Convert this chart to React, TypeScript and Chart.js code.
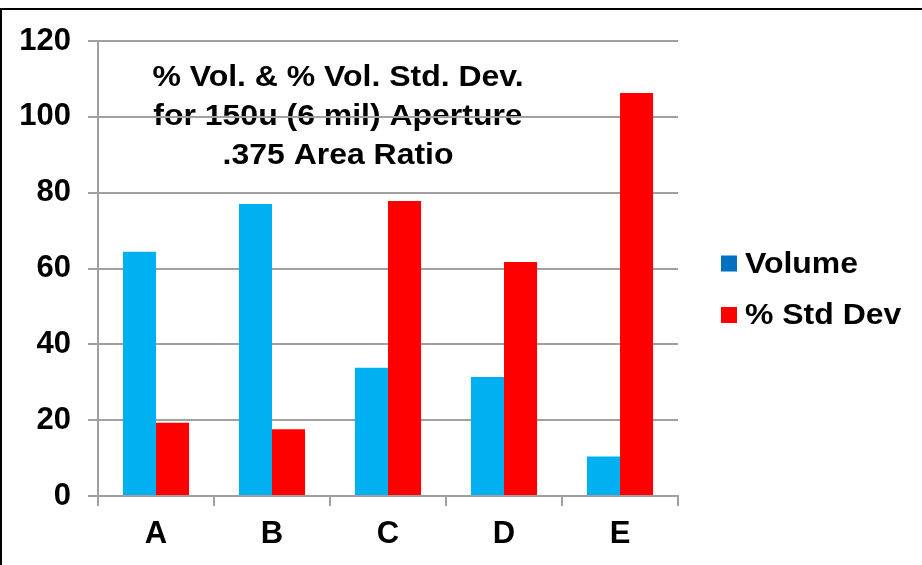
import React, { useEffect, useRef } from "react";
import { Chart, registerables } from "chart.js";

Chart.register(...registerables);

const categories = ["A", "B", "C", "D", "E"];
const volumeValues = [64.4, 77.0, 33.8, 31.4, 10.4];
const stdDevValues = [19.3, 17.6, 77.8, 61.7, 106.3];
const titleLines = ["% Vol. & % Vol. Std. Dev.", "for 150u (6 mil) Aperture", ".375 Area Ratio"];
const seriesNames = ["Volume", "% Std Dev"];

const FONT_FAMILY = "'Liberation Sans', Arial, sans-serif";
const GRID = "#a0a0a0";
const TEXT_STRETCH = 1.065;

// Title sits inside the plot, drawn before the grid so the grid lines cross it
const titlePlugin = {
  id: "innerTitle",
  beforeDraw(chart: Chart) {
    const { ctx, chartArea } = chart;
    ctx.save();
    ctx.fillStyle = "#000";
    ctx.font = `bold 30px ${FONT_FAMILY}`;
    ctx.textAlign = "center";
    ctx.textBaseline = "alphabetic";
    const cx = 338;
    titleLines.forEach((line, i) => {
      ctx.save();
      ctx.translate(cx, chartArea.top + 45 + i * 39);
      ctx.scale(TEXT_STRETCH, 1);
      ctx.fillText(line, 0, 0);
      ctx.restore();
    });
    ctx.restore();
  },
};

// Legend to the right of the plot
const legendPlugin = {
  id: "sideLegend",
  afterDraw(chart: Chart) {
    const { ctx } = chart;
    const swatches = ["#0070C0", "#FF0000"];
    ctx.save();
    ctx.font = `bold 30px ${FONT_FAMILY}`;
    ctx.textAlign = "left";
    ctx.textBaseline = "middle";
    seriesNames.forEach((name, i) => {
      const cy = 263.5 + i * 51.5;
      ctx.fillStyle = swatches[i];
      ctx.fillRect(721, cy - 8, 16, 16);
      ctx.fillStyle = "#000";
      ctx.save();
      ctx.translate(745, cy + 1);
      ctx.scale(TEXT_STRETCH, 1);
      ctx.fillText(name, 0, 0);
      ctx.restore();
    });
    ctx.restore();
  },
};

export default function App() {
  const canvasRef = useRef<HTMLCanvasElement | null>(null);

  useEffect(() => {
    if (!canvasRef.current) return;
    const chart = new Chart(canvasRef.current, {
      type: "bar",
      data: {
        labels: categories,
        datasets: [
          {
            label: seriesNames[0],
            data: volumeValues,
            backgroundColor: "#00B0F0",
            barPercentage: 1,
            categoryPercentage: 0.57,
          },
          {
            label: seriesNames[1],
            data: stdDevValues,
            backgroundColor: "#FF0000",
            barPercentage: 1,
            categoryPercentage: 0.57,
          },
        ],
      },
      options: {
        responsive: false,
        animation: false,
        layout: { padding: { top: 41, right: 244, bottom: 0, left: 0 } },
        plugins: {
          legend: { display: false },
          title: { display: false },
          tooltip: { enabled: false },
        },
        scales: {
          x: {
            offset: true,
            grid: {
              offset: true,
              drawOnChartArea: false,
              drawTicks: true,
              tickLength: 10,
              color: GRID,
              lineWidth: 2,
            },
            border: { display: true, color: GRID, width: 2 },
            ticks: {
              color: "#000",
              font: { family: FONT_FAMILY, size: 31, weight: "bold" },
              padding: 10,
              maxRotation: 0,
            },
            afterFit(scale: any) {
              scale.height = 69;
            },
          },
          y: {
            min: 0,
            max: 120,
            grid: {
              color: GRID,
              lineWidth: 2,
              drawTicks: true,
              tickLength: 10,
            },
            border: { display: true, color: GRID, width: 2 },
            ticks: {
              stepSize: 20,
              color: "#000",
              font: { family: FONT_FAMILY, size: 31, weight: "bold" },
              padding: 17,
            },
            afterFit(scale: any) {
              scale.width = 98;
            },
          },
        },
      },
      plugins: [titlePlugin, legendPlugin],
    });
    return () => chart.destroy();
  }, []);

  return (
    <div style={{ position: "absolute", left: 0, top: 0, width: 922, height: 565, background: "#fff" }}>
      <canvas ref={canvasRef} width={922} height={565} style={{ display: "block" }} />
      <div
        style={{
          position: "absolute",
          left: 0,
          top: 8,
          width: 922,
          height: 557,
          borderTop: "2px solid #000",
          borderLeft: "2px solid #000",
          boxSizing: "border-box",
          pointerEvents: "none",
        }}
      />
    </div>
  );
}
